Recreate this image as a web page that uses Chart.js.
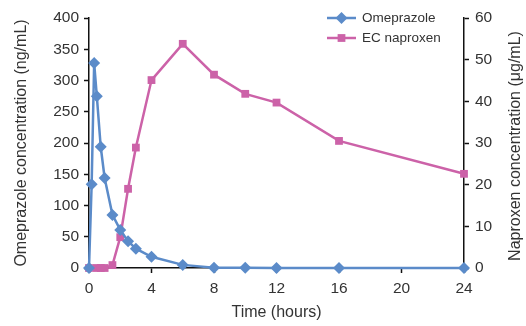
<!DOCTYPE html>
<html>
<head>
<meta charset="utf-8">
<script src="https://cdn.jsdelivr.net/npm/chart.js@4.4.0/dist/chart.umd.min.js"></script>
<style>
  html, body { margin: 0; padding: 0; background: #fff; }
  #wrap { width: 526px; height: 326px; }
</style>
</head>
<body>
<div id="wrap"><canvas id="pkChart" width="526" height="326"></canvas></div>
<script>
// time points (hours) and concentrations
const omeTimes = [0, 0.17, 0.33, 0.5, 0.75, 1, 1.5, 2, 2.5, 3, 4, 6, 8, 10, 12, 16, 24];
const omeValues = [0, 134, 328, 275, 194, 144, 85, 61, 43, 31, 18, 5, 0.5, 0.3, 0.2, 0.1, 0];
const napTimes = [0, 0.5, 0.75, 1, 1.5, 2, 2.5, 3, 4, 6, 8, 10, 12, 16, 24];
const napValues = [0, 0, 0, 0, 0.7, 7.4, 19, 28.9, 45.1, 53.8, 46.4, 41.8, 39.7, 30.5, 22.6];
const xTicks = [0, 4, 8, 12, 16, 20, 24];

const blue = '#5b8bc9';
const pink = '#cc62a8';
const textColor = '#333';
const fontFamily = '"Liberation Sans", Arial, Helvetica, sans-serif';

const toPoints = (xs, ys) => xs.map((x, i) => ({ x: x, y: ys[i] }));

// legend with line + marker, drawn inside the plot area top right
const lineLegend = {
    id: 'lineLegend',
    afterDraw(chart) {
        const ctx = chart.ctx;
        const items = [
            { label: 'Omeprazole', color: blue, style: 'rectRot', radius: 6 },
            { label: 'EC naproxen', color: pink, style: 'rect', radius: 5.5 }
        ];
        ctx.save();
        ctx.font = '13.5px ' + fontFamily;
        ctx.textBaseline = 'middle';
        items.forEach((it, i) => {
            const y = 18 + i * 20;
            ctx.strokeStyle = it.color;
            ctx.lineWidth = 2.5;
            ctx.beginPath();
            ctx.moveTo(327, y);
            ctx.lineTo(356, y);
            ctx.stroke();
            ctx.fillStyle = it.color;
            Chart.helpers.drawPoint(ctx, { pointStyle: it.style, radius: it.radius, borderWidth: 0 }, 341.5, y);
            ctx.fillStyle = textColor;
            ctx.fillText(it.label, 362, y);
        });
        ctx.restore();
    }
};

// right axis title reads bottom to top like the left one
const rightTitle = {
    id: 'rightTitle',
    afterDraw(chart) {
        const ctx = chart.ctx;
        const area = chart.chartArea;
        ctx.save();
        ctx.font = '16px ' + fontFamily;
        ctx.fillStyle = textColor;
        ctx.textAlign = 'center';
        ctx.textBaseline = 'middle';
        ctx.translate(516, (area.top + area.bottom) / 2 + 3);
        ctx.rotate(-Math.PI / 2);
        ctx.fillText('Naproxen concentration (\u03bcg/mL)', 0, 0);
        ctx.restore();
    }
};

const ctx = document.getElementById('pkChart').getContext('2d');
new Chart(ctx, {
    type: 'line',
    data: {
        datasets: [{
            label: 'Omeprazole',
            data: toPoints(omeTimes, omeValues),
            yAxisID: 'y',
            borderColor: blue,
            backgroundColor: blue,
            borderWidth: 2.5,
            pointStyle: 'rectRot',
            pointRadius: 6,
            pointBorderWidth: 0,
            tension: 0,
            clip: false
        }, {
            label: 'EC naproxen',
            data: toPoints(napTimes, napValues),
            yAxisID: 'y1',
            borderColor: pink,
            backgroundColor: pink,
            borderWidth: 2.5,
            pointStyle: 'rect',
            pointRadius: 5.5,
            pointBorderWidth: 0,
            tension: 0,
            clip: false,
            order: 1
        }]
    },
    options: {
        responsive: false,
        animation: false,
        layout: { padding: { top: 18, left: 0, right: 0, bottom: 0 } },
        plugins: {
            legend: { display: false },
            tooltip: { enabled: false }
        },
        scales: {
            x: {
                type: 'linear',
                min: 0,
                max: 24,
                afterBuildTicks: axis => { axis.ticks = xTicks.map(v => ({ value: v })); },
                afterFit: axis => { axis.height = 58; },
                border: { color: '#111', width: 1.5 },
                grid: { drawOnChartArea: false, tickLength: 5, tickColor: '#111', tickWidth: 1.5 },
                ticks: { color: textColor, font: { size: 15.5, family: fontFamily }, padding: 6, maxRotation: 0 },
                title: { display: true, text: 'Time (hours)', color: textColor, font: { size: 16, family: fontFamily }, padding: { top: 9 } }
            },
            y: {
                position: 'left',
                min: 0,
                max: 400,
                afterFit: axis => { axis.width = 89; },
                border: { color: '#111', width: 1.5 },
                grid: { drawOnChartArea: false, tickLength: 5, tickColor: '#111', tickWidth: 1.5 },
                ticks: { stepSize: 50, color: textColor, font: { size: 15.5, family: fontFamily }, padding: 5 },
                title: { display: true, text: 'Omeprazole concentration (ng/mL)', color: textColor, font: { size: 16, family: fontFamily }, padding: { top: 12, bottom: 0 } }
            },
            y1: {
                position: 'right',
                min: 0,
                max: 60,
                afterFit: axis => { axis.width = 62; },
                border: { color: '#111', width: 1.5 },
                grid: { drawOnChartArea: false, tickLength: 5, tickColor: '#111', tickWidth: 1.5 },
                ticks: { stepSize: 10, color: textColor, font: { size: 15.5, family: fontFamily }, padding: 6 }
            }
        }
    },
    plugins: [lineLegend, rightTitle]
});
</script>
</body>
</html>
